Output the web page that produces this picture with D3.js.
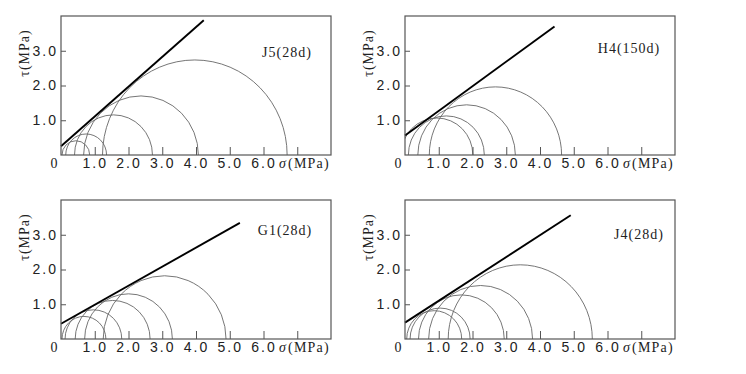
<!DOCTYPE html>
<html>
<head>
<meta charset="utf-8">
<script src="https://cdn.jsdelivr.net/npm/d3@7"></script>
<style>
  body { margin: 0; background: #fff; }
  svg { display: block; font-family: "Liberation Serif", "DejaVu Serif", serif; }
</style>
</head>
<body>
<svg id="chart" width="746" height="374"></svg>
<script>
// Mohr circles: minor / major principal stress (MPa), one pair per test
const J5_sigma3 = [0.03, 0.14, 0.40, 0.67, 1.23];
const J5_sigma1 = [0.85, 1.35, 2.71, 4.07, 6.70];
const J5_envelope = [[0, 0.25], [4.23, 3.88]];

const H4_sigma3 = [-0.12, 0.10, 0.38, 0.72];
const H4_sigma1 = [2.01, 2.35, 3.27, 4.64];
const H4_envelope = [[0, 0.56], [4.43, 3.70]];

const G1_sigma3 = [0.03, 0.12, 0.42, 0.70, 1.25];
const G1_sigma1 = [1.33, 1.80, 2.64, 3.30, 4.89];
const G1_envelope = [[0, 0.44], [5.30, 3.34]];

const J4_sigma3 = [0.05, 0.15, 0.40, 0.70, 1.28];
const J4_sigma1 = [1.68, 1.93, 2.94, 3.78, 5.55];
const J4_envelope = [[0, 0.47], [4.91, 3.56]];

const xTicks = [1, 2, 3, 4, 5, 6, 7];
const yTicks = [1, 2, 3];

const panels = [
  {name: "J5(28d)",  s3: J5_sigma3, s1: J5_sigma1, env: J5_envelope, left: 61,  top: 16,  label: [226, 36]},
  {name: "H4(150d)", s3: H4_sigma3, s1: H4_sigma1, env: H4_envelope, left: 405, top: 16,  label: [224, 32]},
  {name: "G1(28d)",  s3: G1_sigma3, s1: G1_sigma1, env: G1_envelope, left: 61,  top: 200, label: [224, 30]},
  {name: "J4(28d)",  s3: J4_sigma3, s1: J4_sigma1, env: J4_envelope, left: 405, top: 200, label: [234, 34]}
];

const width = 270, height = 139;
const x = d3.scaleLinear().domain([0, 8]).range([0, width]);
const y = d3.scaleLinear().domain([0, 4]).range([height, 0]);

const svg = d3.select("#chart");

panels.forEach((p, i) => {
  const g = svg.append("g").attr("transform", `translate(${p.left},${p.top})`);

  g.append("clipPath").attr("id", "clip" + i)
    .append("rect").attr("width", width).attr("height", height);

  const plot = g.append("g").attr("clip-path", `url(#clip${i})`);

  // semicircles drawn as arcs between sigma3 and sigma1
  plot.selectAll("path.circle")
    .data(d3.zip(p.s3, p.s1))
    .join("path")
      .attr("class", "circle")
      .attr("fill", "none")
      .attr("stroke", "#666")
      .attr("stroke-width", 0.9)
      .attr("d", ([a, b]) => {
        const rx = (x(b) - x(a)) / 2;
        const ry = y(0) - y((b - a) / 2);
        return `M${x(a)},${y(0)}A${rx},${ry} 0 0 1 ${x(b)},${y(0)}`;
      });

  g.append("line")
    .attr("x1", x(p.env[0][0])).attr("y1", y(p.env[0][1]))
    .attr("x2", x(p.env[1][0])).attr("y2", y(p.env[1][1]))
    .attr("stroke", "#000")
    .attr("stroke-width", 1.9);

  const xAxis = g.append("g")
      .attr("transform", `translate(0,${height})`)
      .call(d3.axisBottom(x).tickValues(xTicks).tickSizeInner(-8).tickSizeOuter(0).tickPadding(3)
        .tickFormat(d => d === 7 ? "" : d3.format(".1f")(d)));
  xAxis.select(".domain").remove();

  const yAxis = g.append("g")
      .call(d3.axisLeft(y).tickValues(yTicks).tickSizeInner(-5).tickSizeOuter(0).tickPadding(3)
        .tickFormat(d3.format(".1f")));
  yAxis.select(".domain").remove();

  g.selectAll(".tick line").attr("stroke", "#555");
  g.selectAll(".tick text")
    .attr("fill", "#222")
    .style("font-size", "14px")
    .style("letter-spacing", "2px");

  g.append("rect")
    .attr("width", width).attr("height", height)
    .attr("fill", "none")
    .attr("stroke", "#555")
    .attr("stroke-width", 1.2);

  g.append("text")
    .attr("x", -7).attr("y", height + 13)
    .attr("text-anchor", "middle")
    .attr("fill", "#222")
    .style("font-size", "14px")
    .text("0");

  const xl = g.append("text")
    .attr("x", 218).attr("y", height + 13)
    .attr("fill", "#222")
    .style("font-size", "14px")
    .style("letter-spacing", "1.2px");
  xl.append("tspan").attr("font-style", "italic").text("σ");
  xl.append("tspan").attr("dx", 1).text("(MPa)");

  const yl = g.append("text")
    .attr("transform", `translate(-37,37) rotate(-90)`)
    .attr("dy", "0.35em")
    .attr("text-anchor", "middle")
    .attr("fill", "#222")
    .style("font-size", "14px")
    .style("letter-spacing", "1px");
  yl.append("tspan").text("τ");
  yl.append("tspan").text("(MPa)");

  g.append("text")
    .attr("x", p.label[0]).attr("y", p.label[1])
    .attr("dy", "0.35em")
    .attr("text-anchor", "middle")
    .attr("fill", "#222")
    .style("font-size", "14px")
    .style("letter-spacing", "1px")
    .text(p.name);
});
</script>
</body>
</html>
